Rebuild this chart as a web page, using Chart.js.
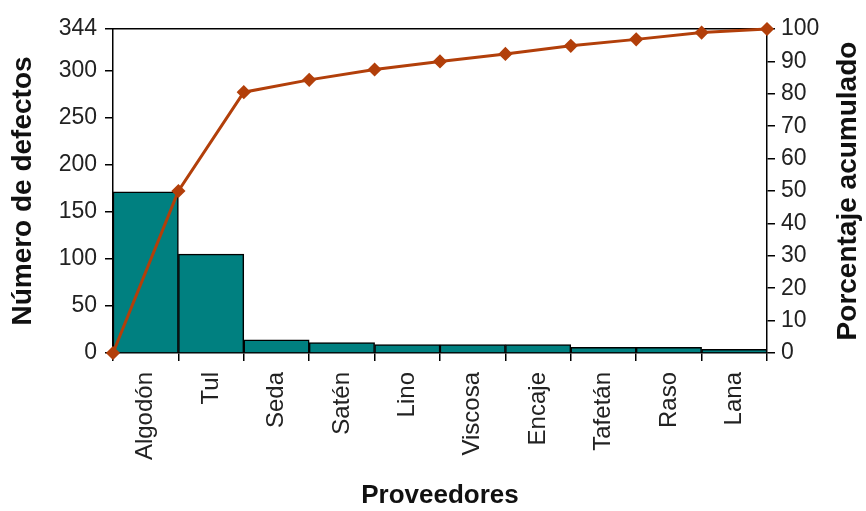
<!DOCTYPE html>
<html>
<head>
<meta charset="utf-8">
<script src="https://cdn.jsdelivr.net/npm/chart.js@4.4.1/dist/chart.umd.min.js"></script>
<style>
  html, body { margin: 0; padding: 0; background: #fff; }
  #wrap { width: 866px; height: 511px; position: relative; }
</style>
</head>
<body>
<div id="wrap"><canvas id="c"></canvas></div>
<script>
const categories = ['Algodón', 'Tul', 'Seda', 'Satén', 'Lino', 'Viscosa', 'Encaje', 'Tafetán', 'Raso', 'Lana'];
const defects = [171, 105, 14, 11, 9, 9, 9, 6, 6, 4];
const cumulativePct = [0, 50, 80.5, 84.3, 87.5, 90, 92.3, 94.8, 96.8, 98.9, 100];
const leftTicks = [0, 50, 100, 150, 200, 250, 300, 344];
const rightTicks = [0, 10, 20, 30, 40, 50, 60, 70, 80, 90, 100];
const xTitle = 'Proveedores';
const yLeftTitle = 'Número de defectos';
const yRightTitle = 'Porcentaje acumulado';

const FONT = "'Liberation Sans', Arial, sans-serif";
const BAR = '#008080';
const LINE = '#B23F0A';

const rightTitlePlugin = {
  id: 'rightTitle',
  afterDraw(chart) {
    const { ctx, chartArea } = chart;
    ctx.save();
    ctx.font = `bold 28px ${FONT}`;
    ctx.fillStyle = '#111';
    ctx.textAlign = 'center';
    ctx.textBaseline = 'middle';
    ctx.translate(848, (chartArea.top + chartArea.bottom) / 2);
    ctx.rotate(-Math.PI / 2);
    ctx.fillText(yRightTitle, 0, 0);
    ctx.restore();
  }
};

new Chart(document.getElementById('c'), {
  type: 'bar',
  data: {
    labels: categories,
    datasets: [
      {
        type: 'line',
        data: cumulativePct.map((v, i) => ({ x: i, y: v })),
        xAxisID: 'x2',
        yAxisID: 'y1',
        borderColor: LINE,
        backgroundColor: LINE,
        borderWidth: 3,
        pointStyle: 'rectRot',
        pointRadius: 5,
        pointBackgroundColor: LINE,
        pointBorderColor: LINE,
        tension: 0,
        clip: false,
        order: 0
      },
      {
        type: 'bar',
        data: defects,
        xAxisID: 'x',
        yAxisID: 'y',
        backgroundColor: BAR,
        borderColor: '#000',
        borderWidth: 1.5,
        barPercentage: 1,
        categoryPercentage: 1,
        grouped: false,
        order: 1
      }
    ]
  },
  options: {
    responsive: true,
    maintainAspectRatio: false,
    animation: false,
    devicePixelRatio: 1,
    layout: { padding: { top: 29, left: 0, right: 0, bottom: 0 } },
    plugins: { legend: { display: false }, tooltip: { enabled: false } },
    scales: {
      x: {
        type: 'category',
        position: 'bottom',
        offset: true,
        grid: { offset: true, drawOnChartArea: false, tickLength: 8, color: '#000', lineWidth: 1.5 },
        border: { color: '#000', width: 1.5 },
        ticks: { minRotation: 90, maxRotation: 90, autoSkip: false, color: '#222', padding: 11, font: { family: FONT, size: 24 } },
        title: { display: true, text: xTitle, color: '#111', font: { family: FONT, size: 26, weight: 'bold' }, padding: { top: 4, bottom: 0 } },
        afterFit(s) { s.height = 158; }
      },
      x2: {
        type: 'linear',
        position: 'top',
        min: 0,
        max: 10,
        offset: false,
        grid: { display: true, drawOnChartArea: false, drawTicks: false },
        border: { display: true, color: '#000', width: 1.5 },
        ticks: { display: false },
        afterFit(s) { s.height = 0; }
      },
      y: {
        position: 'left',
        min: 0,
        max: 344,
        afterBuildTicks(s) { s.ticks = leftTicks.map(v => ({ value: v })); },
        grid: { drawOnChartArea: false, tickLength: 8, color: '#000', lineWidth: 1.5 },
        border: { color: '#000', width: 1.5 },
        ticks: { color: '#222', padding: 8, font: { family: FONT, size: 23 } },
        title: { display: true, text: yLeftTitle, color: '#111', font: { family: FONT, size: 28, weight: 'bold' }, padding: { top: 6, bottom: 0 } },
        afterFit(s) { s.width = 113; }
      },
      y1: {
        position: 'right',
        min: 0,
        max: 100,
        afterBuildTicks(s) { s.ticks = rightTicks.map(v => ({ value: v })); },
        grid: { drawOnChartArea: false, tickLength: 8, color: '#000', lineWidth: 1.5 },
        border: { color: '#000', width: 1.5 },
        ticks: { color: '#222', padding: 6, font: { family: FONT, size: 23 } },
        afterFit(s) { s.width = 99; }
      }
    }
  },
  plugins: [rightTitlePlugin]
});
</script>
</body>
</html>
